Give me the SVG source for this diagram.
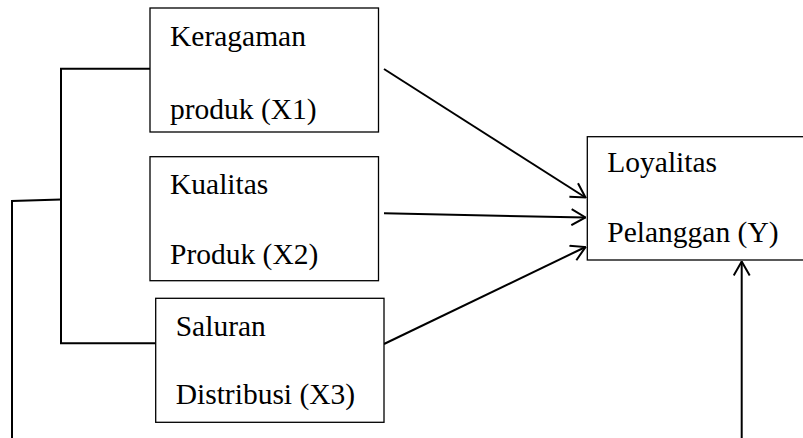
<svg xmlns="http://www.w3.org/2000/svg" width="803" height="438" viewBox="0 0 803 438">
<style>
.box{fill:#fff;stroke:#000;stroke-width:1.3}
.t{font-family:"Liberation Serif",serif;font-size:29.5px;fill:#000}
.ln{fill:none;stroke:#000;stroke-width:2}
.ar{fill:none;stroke:#000;stroke-width:2;marker-end:url(#ah)}
</style>
<defs>
<marker id="ah" viewBox="0 0 16 18" refX="15" refY="9" markerWidth="16" markerHeight="18" markerUnits="userSpaceOnUse" orient="auto">
<path d="M1,1 L15,9 L1,17" fill="none" stroke="#000" stroke-width="2"/>
</marker>
</defs>
<g id="connectors">
<polyline class="ln" points="150,68.7 61,68.7 61,343.3 155.7,343.3"/>
<polyline class="ln" points="61,199.5 12,201 12,438"/>
<line class="ar" x1="384" y1="69" x2="585.5" y2="197.5"/>
<line class="ar" x1="384" y1="213.3" x2="585.5" y2="217.5"/>
<line class="ar" x1="384" y1="344" x2="585.5" y2="247"/>
<line class="ar" x1="741.7" y1="438" x2="741.7" y2="261.5"/>
</g>
<g id="x1">
<rect class="box" x="150" y="8" width="228.5" height="124"/>
<text class="t" font-family="Liberation Serif" x="170" y="45.7">Keragaman</text>
<text class="t" font-family="Liberation Serif" x="170" y="119">produk (X1)</text>
</g>
<g id="x2">
<rect class="box" x="150" y="156.7" width="228.5" height="124"/>
<text class="t" font-family="Liberation Serif" x="170" y="194">Kualitas</text>
<text class="t" font-family="Liberation Serif" x="170" y="264.3">Produk (X2)</text>
</g>
<g id="x3">
<rect class="box" x="155.7" y="298.3" width="228.3" height="124"/>
<text class="t" font-family="Liberation Serif" x="175.7" y="335.7">Saluran</text>
<text class="t" font-family="Liberation Serif" x="175.7" y="404">Distribusi (X3)</text>
</g>
<g id="y">
<rect class="box" x="587.3" y="136.7" width="230" height="123.3"/>
<text class="t" font-family="Liberation Serif" x="607.3" y="172.3">Loyalitas</text>
<text class="t" font-family="Liberation Serif" x="607.3" y="242.3">Pelanggan (Y)</text>
</g>
</svg>
